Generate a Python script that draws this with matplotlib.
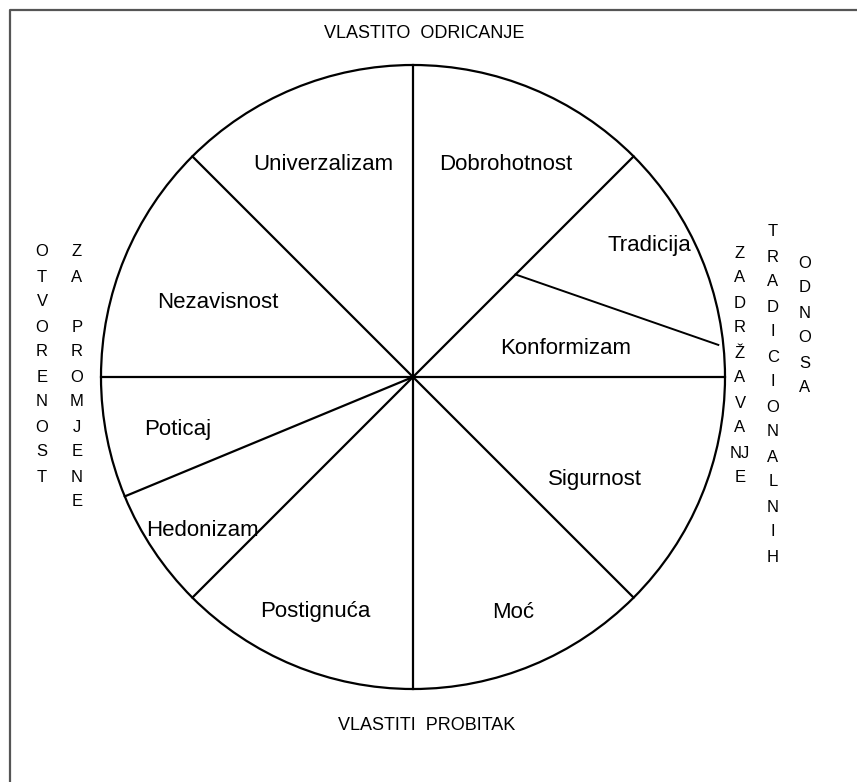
import numpy as np
import matplotlib
matplotlib.use("Agg")
import matplotlib.pyplot as plt
from matplotlib.patches import Circle

plt.rcParams['font.family'] = ['Liberation Sans', 'DejaVu Sans']

# circle geometry (pixel units, y downwards)
cx, cy, radius = 413, 377, 312

# radial boundaries between the value segments (degrees, counter-clockwise from east)
boundary_angles = [90, 45, 0, -45, -90, 225, 202.5, 180, 135]

# the one non-radial separator (Tradicija / Konformizam): polar start and end
sep_start = (45, 145)
sep_end = (6.0, 307)

# value segment labels
value_names = ["Univerzalizam", "Dobrohotnost", "Tradicija", "Konformizam",
               "Nezavisnost", "Poticaj", "Hedonizam", "Sigurnost", "Moć",
               "Postignuća"]
value_x = [323, 506, 649, 566, 218, 178, 202, 595, 513, 315]
value_y = [164, 164, 246, 349, 302, 430, 531, 479, 612, 612]

# pole captions
top_caption = "VLASTITO  ODRICANJE"
bottom_caption = "VLASTITI  PROBITAK"

# vertical captions, one letter (or digraph) per row
vertical_words = [
    list("OTVORENOST"),
    ["Z", "A", "", "P", "R", "O", "M", "J", "E", "N", "E"],
    ["Z", "A", "D", "R", "Ž", "A", "V", "A", "NJ", "E"],
    list("TRADICIONALNIH"),
    list("ODNOSA"),
]
vertical_x = [42, 77, 740, 773, 805]
vertical_top = [252, 252, 253, 232, 263]
row_step = 25


def polar(angle, r):
    a = np.deg2rad(angle)
    return cx + r * np.cos(a), cy - r * np.sin(a)


fig = plt.figure(figsize=(8.57, 7.82), dpi=100)
ax = fig.add_axes([0, 0, 1, 1])
ax.set_xlim(0, 857)
ax.set_ylim(782, 0)
ax.axis("off")

# frame (only top and left edges are visible in the crop)
ax.plot([10, 10, 857], [782, 10, 10], color="#555555", lw=1.6)

ax.add_patch(Circle((cx, cy), radius, fill=False, ec="black", lw=1.6))

for ang in boundary_angles:
    x, y = polar(ang, radius)
    ax.plot([cx, x], [cy, y], color="black", lw=1.6)

x0, y0 = polar(*sep_start)
x1, y1 = polar(*sep_end)
ax.plot([x0, x1], [y0, y1], color="black", lw=1.4)

for name, x, y in zip(value_names, value_x, value_y):
    ax.text(x, y, name, fontsize=16, ha="center", va="center")

ax.text(424, 33, top_caption, fontsize=13, ha="center", va="center")
ax.text(427, 725, bottom_caption, fontsize=13, ha="center", va="center")

for letters, x, top in zip(vertical_words, vertical_x, vertical_top):
    for i, ch in enumerate(letters):
        ax.text(x, top + i * row_step, ch, fontsize=12, ha="center", va="center")

fig.savefig("out.png", dpi=100)
